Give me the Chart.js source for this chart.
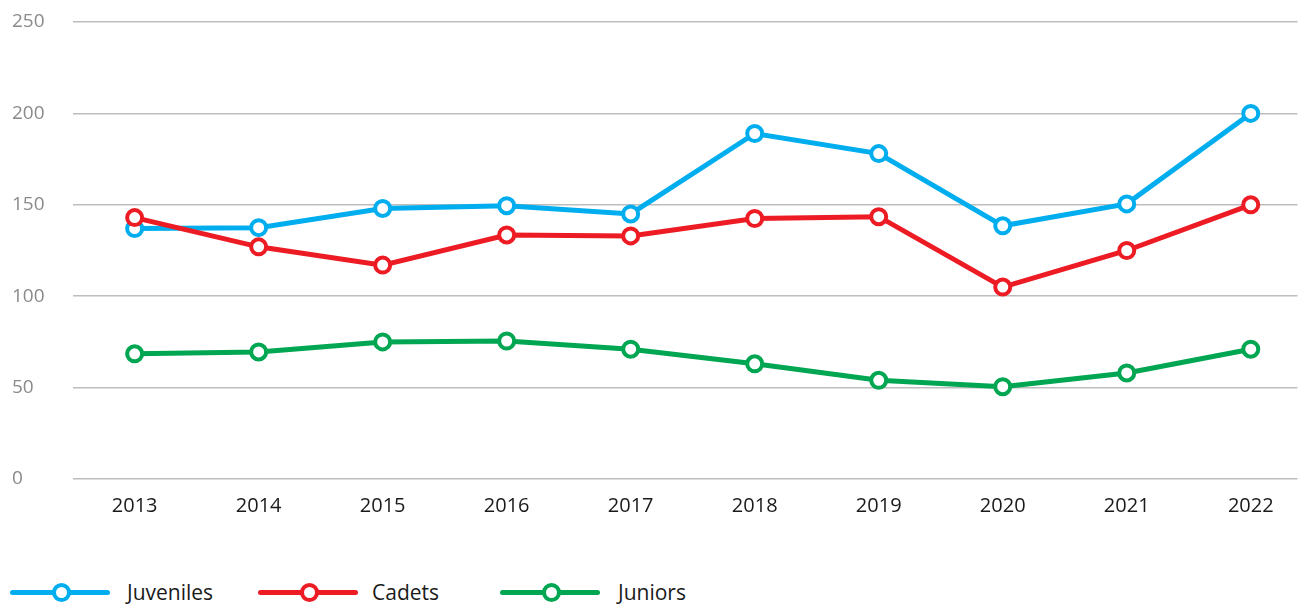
<!DOCTYPE html>
<html>
<head>
    <title>Juveniles, Cadets, Juniors</title>
    <style>
        body {
            margin: 0;
            background-color: #ffffff;
            font-family: "Open Sans", sans-serif;
            overflow: hidden;
            width: 1309px;
            height: 605px;
        }

        #chartBox {
            position: absolute;
            left: 0;
            top: 0;
            width: 1309px;
            height: 540px;
        }

        #legend {
            position: absolute;
            left: 0;
            top: 578px;
            height: 28px;
        }

        .item {
            position: absolute;
            top: 0;
            height: 28px;
        }

        .item .line {
            position: absolute;
            left: 10px;
            top: 12px;
            width: 100px;
            height: 5px;
            border-radius: 3px;
        }

        .item .dot {
            position: absolute;
            left: 52px;
            top: 5px;
            width: 11px;
            height: 11px;
            border-radius: 50%;
            background: #fff;
            border: 4px solid;
        }

        .item .label {
            position: absolute;
            top: 0px;
            font-size: 21px;
            color: #1a1a1a;
            white-space: nowrap;
        }
    </style>
    <script src="https://cdn.jsdelivr.net/npm/chart.js"></script>
</head>
<body>
    <div id="chartBox"><canvas id="dataChart" width="1309" height="540"></canvas></div>
    <div id="legend"></div>

    <script>
        var years = ['2013', '2014', '2015', '2016', '2017', '2018', '2019', '2020', '2021', '2022'];
        var juveniles = [137, 137.5, 148, 149.5, 145, 189, 178, 138.5, 150.5, 200];
        var cadets = [143, 127, 117, 133.5, 133, 142.5, 143.5, 105, 125, 150];
        var juniors = [68.5, 69.5, 75, 75.5, 71, 63, 54, 50.5, 58, 71];
        var yTicks = [0, 50, 100, 150, 200, 250];

        var series = [
            { label: 'Juveniles', data: juveniles, color: '#00aeef', x: 0, textX: 127 },
            { label: 'Cadets', data: cadets, color: '#ed1c24', x: 248, textX: 124 },
            { label: 'Juniors', data: juniors, color: '#00a651', x: 490, textX: 128 }
        ];

        // los años como índices sobre un eje lineal (el último queda más cerca del borde derecho)
        function toPoints(values) {
            return values.map(function (v, i) { return { x: i, y: v }; });
        }

        var dataChart = new Chart(document.getElementById('dataChart'), {
            type: 'line',
            data: {
                datasets: series.map(function (s) {
                    return {
                        label: s.label,
                        data: toPoints(s.data),
                        borderColor: s.color,
                        backgroundColor: '#ffffff',
                        borderWidth: 5,
                        pointRadius: 7.5,
                        pointHoverRadius: 7.5,
                        pointBorderWidth: 4,
                        pointBackgroundColor: '#ffffff',
                        pointBorderColor: s.color,
                        tension: 0,
                        fill: false
                    };
                }).reverse()
            },
            options: {
                responsive: false,
                animation: false,
                layout: { padding: { top: 22, left: 12, right: 0, bottom: 0 } },
                plugins: {
                    legend: { display: false },
                    tooltip: { enabled: false }
                },
                scales: {
                    x: {
                        type: 'linear',
                        min: -0.497,
                        max: 9.377,
                        afterBuildTicks: function (scale) {
                            scale.ticks = years.map(function (y, i) { return { value: i }; });
                        },
                        grid: { display: false },
                        border: { display: false },
                        ticks: {
                            color: '#1a1a1a',
                            font: { family: 'Open Sans', size: 20 },
                            padding: 7,
                            maxRotation: 0,
                            autoSkip: false,
                            callback: function (value) { return years[value]; }
                        },
                        afterFit: function (scale) { scale.height = 61; }
                    },
                    y: {
                        min: 0,
                        max: 250,
                        afterBuildTicks: function (scale) {
                            scale.ticks = yTicks.map(function (v) { return { value: v }; });
                        },
                        grid: { color: '#bdbdbd', lineWidth: 1.5, drawTicks: false },
                        border: { display: false },
                        ticks: {
                            color: '#8a8a8a',
                            font: { family: 'Open Sans', size: 19 },
                            crossAlign: 'far',
                            padding: 10
                        },
                        afterFit: function (scale) { scale.width = 61; }
                    }
                }
            }
        });

        // leyenda abajo
        var legend = document.getElementById('legend');
        series.forEach(function (s) {
            var item = document.createElement('div');
            item.className = 'item';
            item.style.left = s.x + 'px';
            item.innerHTML = '<div class="line" style="background:' + s.color + '"></div>' +
                '<div class="dot" style="border-color:' + s.color + '"></div>' +
                '<div class="label" style="left:' + s.textX + 'px">' + s.label + '</div>';
            legend.appendChild(item);
        });
    </script>
</body>
</html>
